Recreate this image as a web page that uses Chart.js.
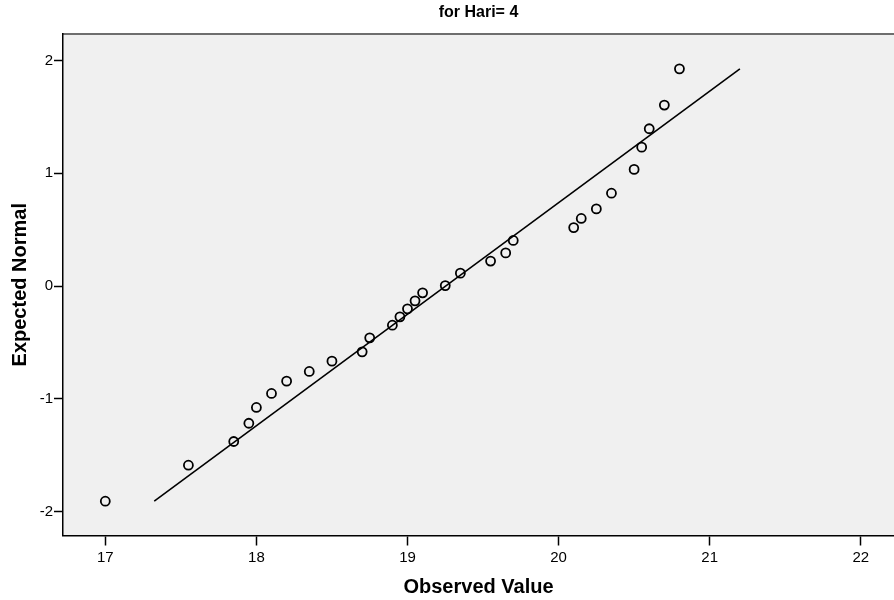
<!DOCTYPE html>
<html>
<head>
<meta charset="utf-8">
<script src="https://cdn.jsdelivr.net/npm/chart.js@4/dist/chart.umd.min.js"></script>
<style>
	html, body { margin: 0; padding: 0; background: #fff; }
	canvas { display: block; }
</style>
</head>
<body>
<canvas id="qq-plot" width="894" height="600"></canvas>
<script>
// observed value (x) and expected normal (y) for each point
const observedValues = [
	17.00, 17.55, 17.85, 17.95, 18.00, 18.10, 18.20, 18.35, 18.50, 18.70,
	18.75, 18.90, 18.95, 19.00, 19.05, 19.10, 19.25, 19.35, 19.55, 19.65,
	19.70, 20.10, 20.15, 20.25, 20.35, 20.50, 20.55, 20.60, 20.70, 20.80
];
const expectedNormal = [
	-1.906, -1.587, -1.377, -1.215, -1.075, -0.951, -0.842, -0.756, -0.665, -0.582,
	-0.458, -0.346, -0.272, -0.201, -0.130, -0.059, 0.005, 0.115, 0.222, 0.295,
	0.405, 0.519, 0.600, 0.685, 0.824, 1.035, 1.232, 1.395, 1.605, 1.926
];

// reference line end points
const lineObserved = [17.324, 21.20];
const lineExpected = [-1.906, 1.926];

const xTicks = [17, 18, 19, 20, 21, 22];
const yTicks = [-2, -1, 0, 1, 2];
const xRange = [16.72, 22.22];
const yRange = [-2.21, 2.235];

const fontFamily = '"Liberation Sans", Arial, sans-serif';

const plotBackground = {
	id: 'plotBackground',
	beforeDraw(chart) {
		const { ctx, chartArea: { left, top, right, bottom } } = chart;
		ctx.save();
		ctx.fillStyle = '#f0f0f0';
		ctx.fillRect(left, top, right - left, bottom - top);
		ctx.strokeStyle = '#6e6e6e';
		ctx.lineWidth = 2;
		ctx.beginPath();
		ctx.moveTo(left, top);
		ctx.lineTo(right, top);
		ctx.stroke();
		ctx.restore();
	}
};

window.addEventListener('load', function () {
	buildChart();
});

function buildChart() {
	const points = observedValues.map((x, i) => ({ x: x, y: expectedNormal[i] }));
	const linePoints = lineObserved.map((x, i) => ({ x: x, y: lineExpected[i] }));

	new Chart(
		document.getElementById('qq-plot'),
		{
			type: 'scatter',
			data: {
				datasets: [
					{
						label: 'Observed',
						data: points,
						pointStyle: 'circle',
						pointRadius: 4.5,
						pointBorderWidth: 1.8,
						pointBorderColor: '#000',
						pointBackgroundColor: 'rgba(0,0,0,0)',
					},
					{
						label: 'Expected',
						data: linePoints,
						showLine: true,
						pointRadius: 0,
						borderColor: '#000',
						borderWidth: 1.6,
					}
				]
			},
			options: {
				responsive: false,
				animation: false,
				layout: {
					padding: 0,
					autoPadding: false,
				},
				plugins: {
					legend: {
						display: false,
					},
					tooltip: {
						enabled: false,
					},
					title: {
						display: true,
						text: 'for Hari= 4',
						fullSize: false,
						color: '#000',
						font: { family: fontFamily, size: 16, weight: 'bold' },
						padding: { top: 3, bottom: 11.8 },
					},
				},
				scales: {
					x: {
						type: 'linear',
						min: xRange[0],
						max: xRange[1],
						afterBuildTicks: (scale) => {
							scale.ticks = xTicks.map((v) => ({ value: v }));
						},
						afterFit: (scale) => {
							scale.height = 64.5;
							scale.paddingLeft = 0;
							scale.paddingRight = 0;
						},
						grid: {
							drawOnChartArea: false,
							tickLength: 10,
							tickColor: '#000',
							tickWidth: 1.5,
						},
						border: {
							color: '#000',
							width: 1.5,
						},
						ticks: {
							color: '#000',
							font: { family: fontFamily, size: 15 },
							padding: 3,
							maxRotation: 0,
						},
						title: {
							display: true,
							text: 'Observed Value',
							color: '#000',
							font: { family: fontFamily, size: 20, weight: 'bold' },
							padding: { top: 0, bottom: 1 },
						},
					},
					y: {
						type: 'linear',
						min: yRange[0],
						max: yRange[1],
						afterBuildTicks: (scale) => {
							scale.ticks = yTicks.map((v) => ({ value: v }));
						},
						afterFit: (scale) => {
							scale.width = 63;
							scale.paddingTop = 0;
							scale.paddingBottom = 0;
						},
						grid: {
							drawOnChartArea: false,
							tickLength: 9,
							tickColor: '#000',
							tickWidth: 1.5,
						},
						border: {
							color: '#000',
							width: 1.5,
						},
						ticks: {
							color: '#000',
							font: { family: fontFamily, size: 15 },
							padding: 1,
						},
						title: {
							display: true,
							text: 'Expected Normal',
							color: '#000',
							font: { family: fontFamily, size: 20, weight: 'bold' },
							padding: { top: 8, bottom: 0 },
						},
					},
				},
			},
			plugins: [plotBackground]
		}
	);
}
</script>
</body>
</html>
